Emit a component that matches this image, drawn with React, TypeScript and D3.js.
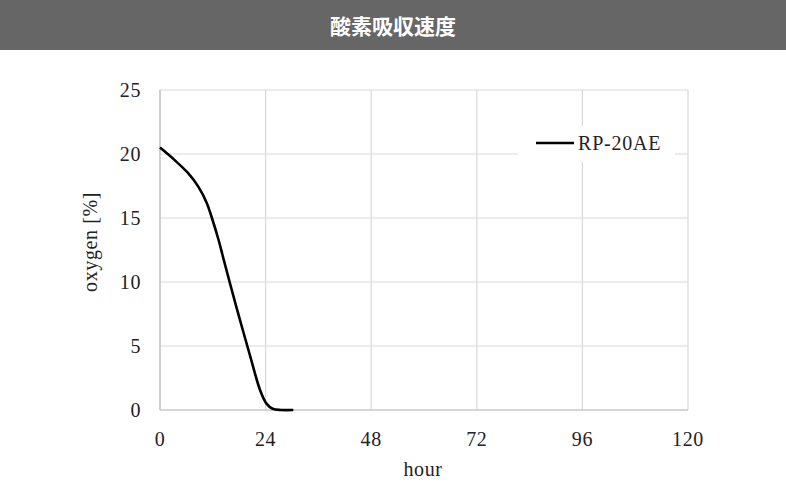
import React from "react";
import * as d3 from "d3";

const title = "酸素吸収速度";
const seriesName = "RP-20AE";
const hours = [0, 3.4, 6.4, 8.7, 10.6, 11.8, 13.3, 14.4, 15.9, 18.2, 20.5, 22.7, 24.2, 25.6, 27.5, 30.3];
const oxygen = [20.5, 19.5, 18.5, 17.45, 16.2, 15.0, 13.3, 11.85, 9.9, 7.0, 4.2, 1.6, 0.5, 0.1, 0.0, 0.0];
const xTicks = [0, 24, 48, 72, 96, 120];
const yTicks = [0, 5, 10, 15, 20, 25];
const xLabel = "hour";
const yLabel = "oxygen [%]";

const W = 786;
const H = 501;
const serif = "'Liberation Serif', 'Times New Roman', serif";

export default function App() {
  const x = d3.scaleLinear().domain([0, 120]).range([160, 688]);
  const y = d3.scaleLinear().domain([0, 25]).range([410, 90]);
  const pts = hours.map((h, i) => [h, oxygen[i]] as [number, number]);
  const line = d3
    .line<[number, number]>()
    .x((d) => x(d[0]))
    .y((d) => y(d[1]))
    .curve(d3.curveCatmullRom.alpha(0.5));

  return (
    <svg width={W} height={H} style={{ position: "absolute", left: 0, top: 0 }}>
      <rect x={0} y={0} width={W} height={H} fill="#fff" />
      <rect x={0} y={0} width={W} height={50} fill="#666666" />
      <text
        x={393}
        y={25}
        textAnchor="middle"
        dominantBaseline="central"
        fill="#fff"
        fontFamily="'Noto Sans CJK JP', sans-serif"
        fontWeight="bold"
        fontSize={21}
      >
        {title}
      </text>

      {yTicks.map((t) => (
        <line key={"gy" + t} x1={160} x2={688} y1={y(t)} y2={y(t)} stroke="#d9d9d9" strokeWidth={1.2} />
      ))}
      {xTicks.map((t) => (
        <line key={"gx" + t} x1={x(t)} x2={x(t)} y1={90} y2={410} stroke="#d9d9d9" strokeWidth={1.2} />
      ))}
      <line x1={160} x2={160} y1={90} y2={410} stroke="#bfbfbf" strokeWidth={1.2} />
      <line x1={160} x2={688} y1={410} y2={410} stroke="#bfbfbf" strokeWidth={1.2} />

      {yTicks.map((t) => (
        <text key={"ly" + t} x={141} y={y(t)} textAnchor="end" dominantBaseline="central" fontFamily={serif} fontSize={20} letterSpacing={0.6} fill="#222">
          {t}
        </text>
      ))}
      {xTicks.map((t) => (
        <text key={"lx" + t} x={x(t)} y={439} textAnchor="middle" dominantBaseline="central" fontFamily={serif} fontSize={20} letterSpacing={0.6} fill="#222">
          {t}
        </text>
      ))}

      <text x={423} y={469} textAnchor="middle" dominantBaseline="central" fontFamily={serif} fontSize={20} letterSpacing={0.6} fill="#222">
        {xLabel}
      </text>
      <text
        transform={`translate(90,242) rotate(-90)`}
        textAnchor="middle"
        dominantBaseline="central"
        fontFamily={serif}
        fontSize={20}
        letterSpacing={0.6}
        fill="#222"
      >
        {yLabel}
      </text>

      <path d={line(pts) || ""} fill="none" stroke="#000" strokeWidth={2.6} strokeLinejoin="round" />

      <rect x={518} y={126} width={157} height={36} fill="#fff" />
      <line x1={536} x2={574} y1={143} y2={143} stroke="#000" strokeWidth={2.6} />
      <text x={578} y={143} dominantBaseline="central" fontFamily={serif} fontSize={20} letterSpacing={0.8} fill="#222">
        {seriesName}
      </text>
    </svg>
  );
}
